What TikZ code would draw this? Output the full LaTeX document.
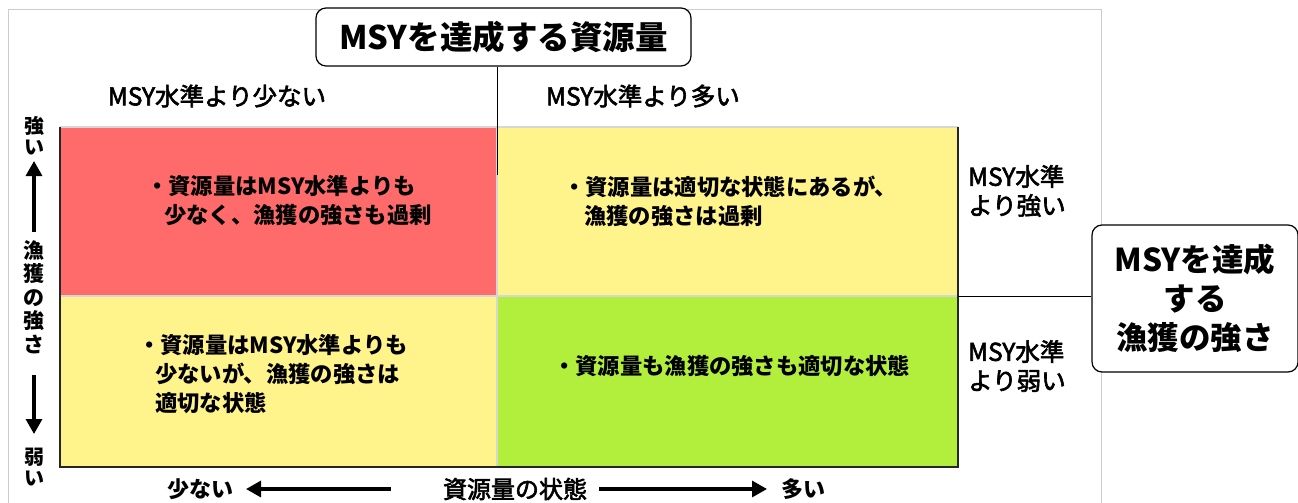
\documentclass[tikz,border=0pt]{standalone}
\usepackage{fontspec}
\setmainfont{Noto Sans CJK JP}
\newfontfamily\jp{Noto Sans CJK JP}
\newfontfamily\jpm[FakeBold=2.5]{Noto Sans CJK JP}
\usetikzlibrary{arrows.meta}
\definecolor{qred}{HTML}{FF6B6B}
\definecolor{qyel}{HTML}{FFF38B}
\definecolor{qgrn}{HTML}{B2EE3C}
\definecolor{frame}{HTML}{CCCCCC}
\tikzset{
  titlebox/.style={draw=black,line width=1.2pt,rounded corners=10pt,fill=white,font=\jp\bfseries\fontsize{32.5}{36}\selectfont,inner sep=0pt,align=center},
  lab/.style={font=\jpm\fontsize{24.5}{29}\selectfont,inner sep=0pt},
  qtext/.style={font=\jp\bfseries\fontsize{22.3}{29}\selectfont,inner sep=0pt,align=left,anchor=west},
  axlab/.style={font=\jp\bfseries\fontsize{20}{21}\selectfont,inner sep=0pt,align=center},
  bigarrow/.style={line width=3.2pt,-{Triangle[length=15pt,width=16pt]}},
}
\begin{document}
\begin{tikzpicture}[x=1pt,y=-1pt]
\useasboundingbox (0,0) rectangle (1298,503);
% outer light frame
\draw[frame,line width=0.8pt] (8,503) -- (8,9) -- (1101,9) -- (1101,503);
% quadrants
\fill[qred] (60,127) rectangle (497,296);
\fill[qyel] (497,127) rectangle (958,296);
\fill[qyel] (60,296) rectangle (497,467);
\fill[qgrn] (497,296) rectangle (958,467);
\draw[frame!80!white,line width=1.2pt] (60,127) -- (958,127);
\draw[frame!80!white,line width=1.2pt] (497,127) -- (497,467);
\draw[frame!80!white,line width=1.2pt] (60,296) -- (958,296);
\draw[black!85,line width=1.4pt] (60,127) -- (60,467) -- (958,467) -- (958,127);
% title boxes
\node[titlebox,minimum width=375pt,minimum height=58pt] (tb) at (503.5,37) {MSYを達成する資源量};
\node[titlebox,minimum width=206pt,minimum height=147pt,font=\jp\bfseries\fontsize{31.5}{39}\selectfont] (rb) at (1195,298.5) {MSYを達成\\する\\漁獲の強さ};
\coordinate (vl) at (497,175);
\coordinate (hl) at (958,296);
\draw[line width=0.9pt] (tb.south -| vl) -- (vl);
\draw[line width=0.9pt] (hl) -- (rb.west |- hl);
% column labels
\node[lab] (c1) at (217,96) {MSY水準より少ない};
\node[lab] (c2) at (643,96) {MSY水準より多い};
% row labels
\node[lab,anchor=west,align=left] (r1) at (968,191) {MSY水準\\より強い};
\node[lab,anchor=west,align=left] (r2) at (968,366) {MSY水準\\より弱い};
% quadrant texts
\node[qtext] (q1) at (146,201) {・資源量はMSY水準よりも\\\hspace{18pt}少なく、漁獲の強さも過剰};
\node[qtext] (q2) at (563,201) {・資源量は適切な状態にあるが、\\\hspace{21pt}漁獲の強さは過剰};
\node[qtext] (q3) at (138,374) {・資源量はMSY水準よりも\\\hspace{17pt}少ないが、漁獲の強さは\\\hspace{17pt}適切な状態};
\node[qtext] (q4) at (553,366) {・資源量も漁獲の強さも適切な状態};
% left axis
\node[axlab] (strong) at (34,136) {強\\い};
\node[axlab,font=\jp\bfseries\fontsize{21}{23.5}\selectfont] (fi) at (34,297) {漁\\獲\\の\\強\\さ};
\node[axlab] (weak) at (34,467) {弱\\い};
\draw[bigarrow] (34,232) -- (34,161);
\draw[bigarrow] (34,375) -- (34,434);
% bottom axis
\node[axlab,font=\jp\bfseries\fontsize{22}{24}\selectfont] (few) at (200,489) {少ない};
\node[lab,font=\jpm\fontsize{24}{24}\selectfont] (st) at (515,489) {資源量の状態};
\node[axlab,font=\jp\bfseries\fontsize{22}{24}\selectfont] (many) at (803,489) {多い};
\draw[bigarrow] (391,489) -- (246,489);
\draw[bigarrow] (599,489) -- (767,489);
\end{tikzpicture}
\end{document}
